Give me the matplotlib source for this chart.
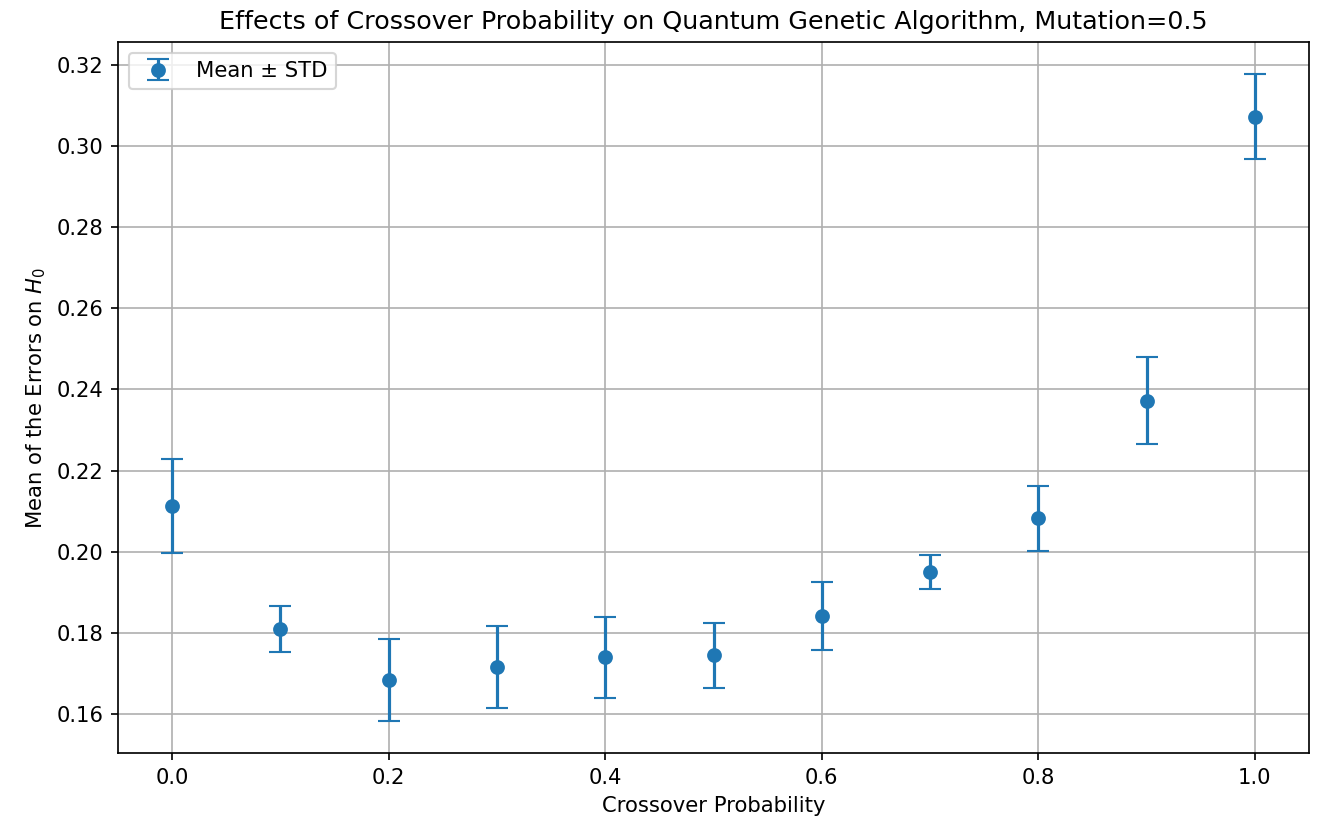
import matplotlib
matplotlib.use("Agg")
import matplotlib.pyplot as plt

crossover = [0.0, 0.1, 0.2, 0.3, 0.4, 0.5, 0.6, 0.7, 0.8, 0.9, 1.0]
mean_err = [0.2113, 0.1809, 0.1684, 0.1716, 0.1740, 0.1745, 0.1842, 0.1950, 0.2083, 0.2372, 0.3072]
std_err = [0.0115, 0.0057, 0.0100, 0.0101, 0.0099, 0.0080, 0.0084, 0.0042, 0.0080, 0.0107, 0.0104]

DPI = 152
fig = plt.figure(figsize=(1317/DPI, 823/DPI), dpi=DPI)
ax = fig.add_axes([118/1317, 1-753/823, (1309-118)/1317, (753-42)/823])
ax.errorbar(crossover, mean_err, yerr=std_err, fmt='o', capsize=5, markersize=6,
            elinewidth=1.5, capthick=1.0, color='#1f77b4', label='Mean ± STD')
ax.set_xlabel('Crossover Probability')
ax.set_ylabel('Mean of the Errors on $H_0$')
ax.set_title('Effects of Crossover Probability on Quantum Genetic Algorithm, Mutation=0.5')
ax.grid(True)
ax.legend(loc='upper left')
fig.savefig('out.png', dpi=DPI)
